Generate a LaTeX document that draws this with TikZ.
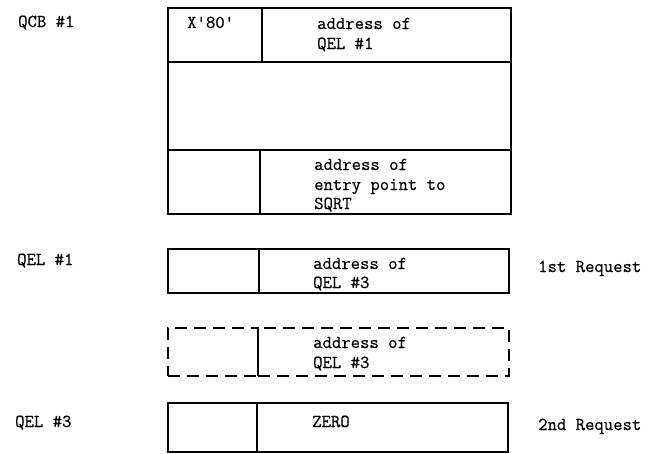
\documentclass[tikz,border=0pt]{standalone}
\usepackage{fontspec}
\newfontfamily\tw{Latin Modern Mono}[BoldFont={Latin Modern Mono}, BoldFeatures={FakeBold=0.6}]
\begin{document}
\begin{tikzpicture}[x=1pt,y=-1pt,
  cell/.style={draw, line width=1.5pt, rectangle, inner sep=0pt, anchor=north west},
  dcell/.style={cell, dash pattern=on 12pt off 7pt},
  txt/.style={anchor=base west, inner sep=0pt, font=\fontsize{18.2}{20}\selectfont\tw\bfseries}]
\useasboundingbox (0,0) rectangle (656,453);
% QCB #1
\node[cell, minimum width=94pt, minimum height=54pt] (a1) at (167,7) {};
\node[cell, minimum width=249pt, minimum height=54pt] (a2) at (261,7) {};
\node[cell, minimum width=343pt, minimum height=88pt] (b1) at (167,61) {};
\node[cell, minimum width=92pt, minimum height=64pt] (c1) at (167,149) {};
\node[cell, minimum width=251pt, minimum height=64pt] (c2) at (259,149) {};
\node[txt] (x80) at (187,28) {X\textquotesingle80\textquotesingle};
\node[txt] (t1) at (317,29) {address of};
\node[txt] (t2) at (317,49) {QEL \#1};
\node[txt] (t3) at (314,170) {address of};
\node[txt] (t4) at (314,190) {entry point to};
\node[txt] (t5) at (314,209) {SQRT};
% QEL #1
\node[cell, minimum width=91pt, minimum height=44pt] (d1) at (167,248) {};
\node[cell, minimum width=250pt, minimum height=44pt] (d2) at (258,248) {};
\node[txt] (t6) at (313,269) {address of};
\node[txt] (t7) at (313,288) {QEL \#3};
% dashed
\node[dcell, minimum width=90pt, minimum height=48pt] (e1) at (167,327) {};
\node[dcell, minimum width=251pt, minimum height=48pt] (e2) at (257,327) {};
\node[txt] (t8) at (313,348) {address of};
\node[txt] (t9) at (313,368) {QEL \#3};
% QEL #3
\node[cell, minimum width=89pt, minimum height=49pt] (f1) at (167,402) {};
\node[cell, minimum width=251pt, minimum height=49pt] (f2) at (256,402) {};
\node[txt] (t10) at (312,427) {ZERO};
% labels
\node[txt] (l1) at (18,27) {QCB \#1};
\node[txt] (l2) at (17,265) {QEL \#1};
\node[txt] (l3) at (15,427) {QEL \#3};
\node[txt] (r1) at (538,272) {1st Request};
\node[txt] (r2) at (538,430) {2nd Request};
\end{tikzpicture}
\end{document}
